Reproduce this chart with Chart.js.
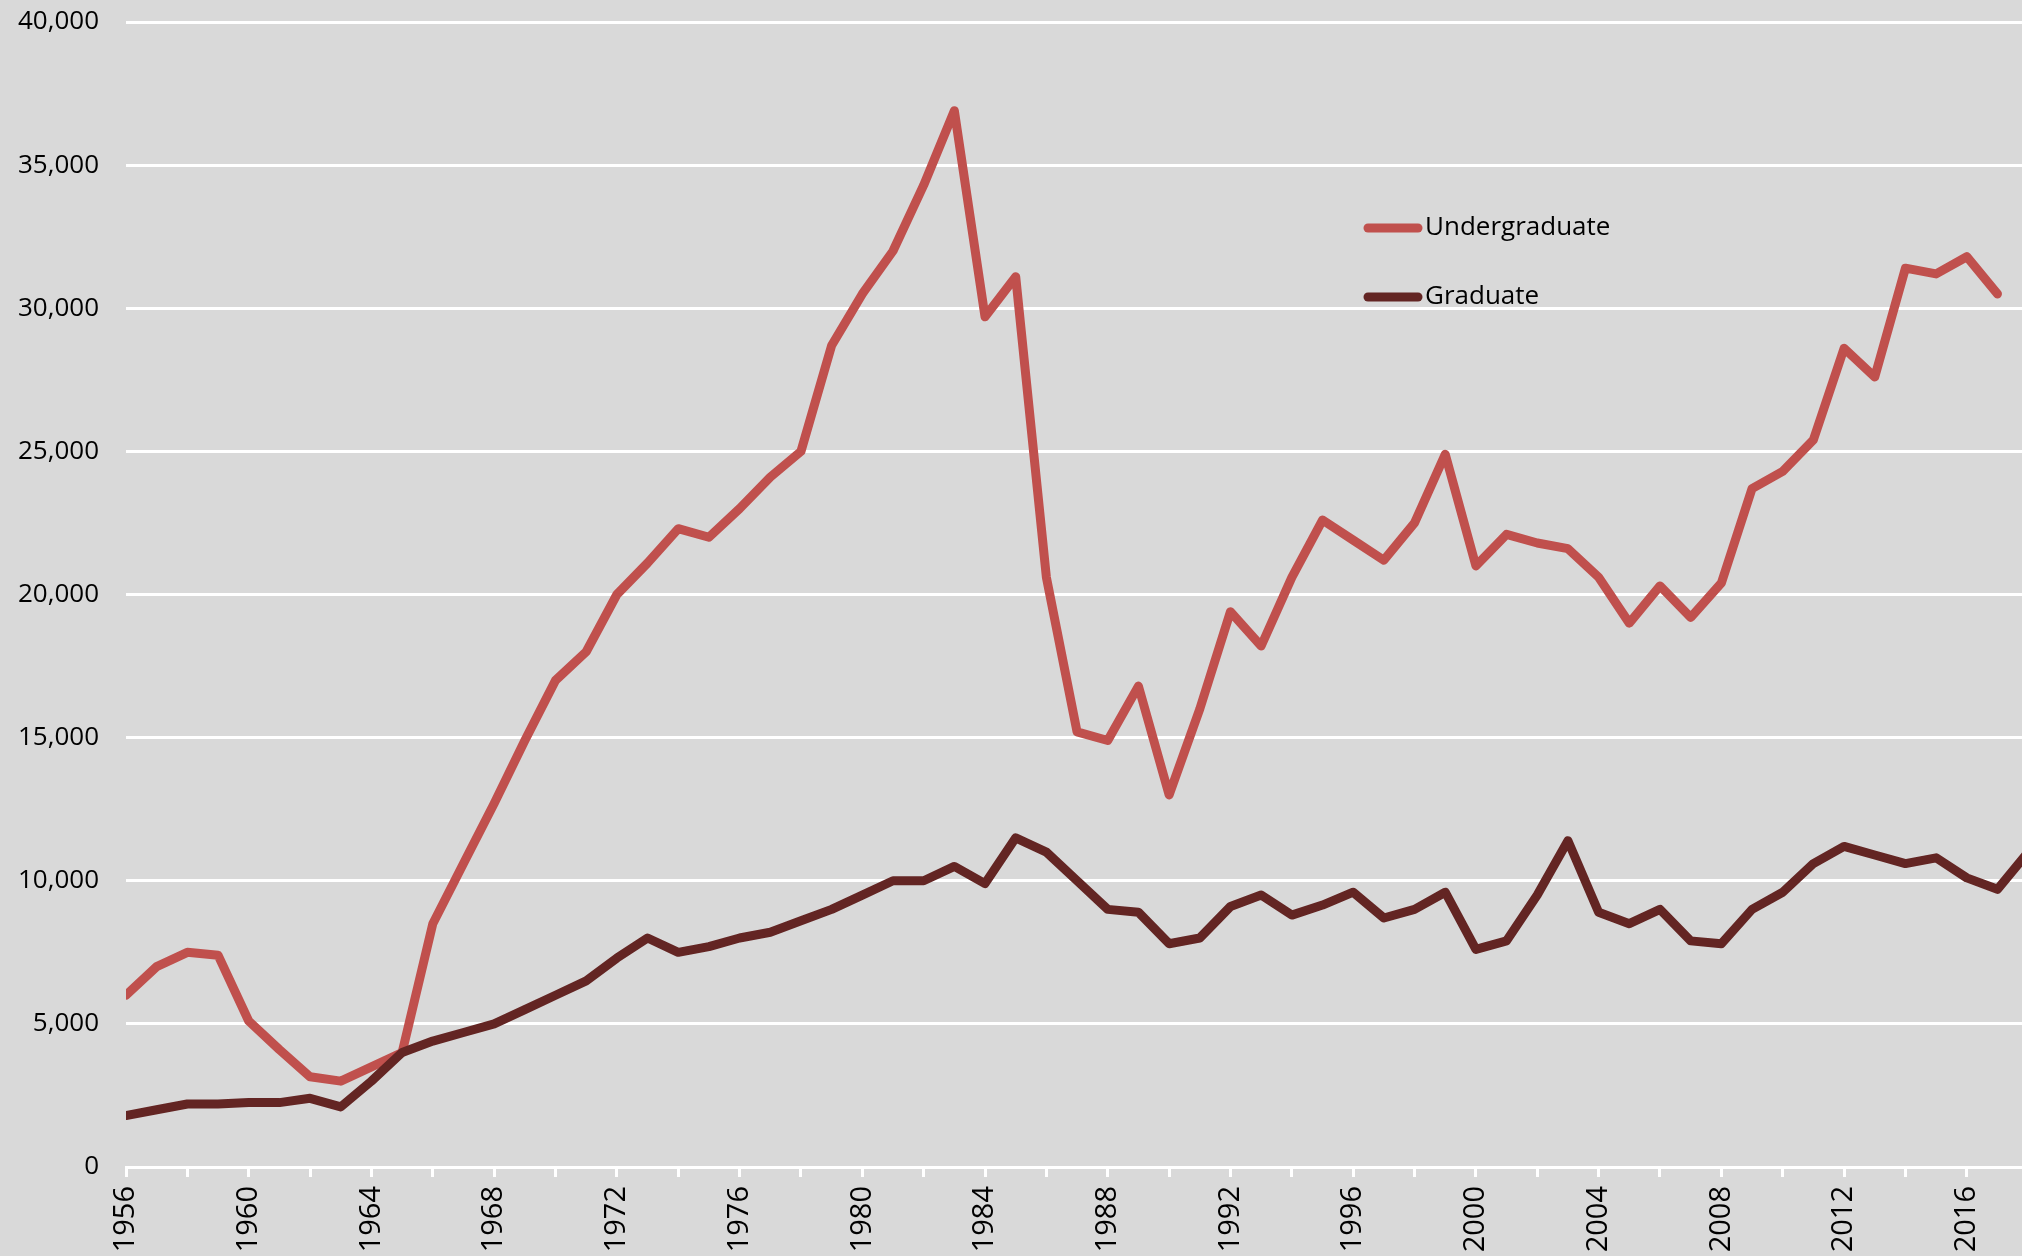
<!DOCTYPE html>
<html>
<head>
<meta charset="utf-8">
<title>Enrolment 1956-2017</title>
<script src="https://cdn.jsdelivr.net/npm/chart.js@4.4.1/dist/chart.umd.min.js"></script>
<style>
  html, body { margin: 0; padding: 0; background: #d9d9d9; }
  #wrap { position: relative; width: 2022px; height: 1256px; }
</style>
</head>
<body>
<div id="wrap"><canvas id="enrolChart"></canvas></div>
<script>
// values
const years = [
  1956, 1957, 1958, 1959, 1960, 1961, 1962, 1963, 1964, 1965,
  1966, 1967, 1968, 1969, 1970, 1971, 1972, 1973, 1974, 1975,
  1976, 1977, 1978, 1979, 1980, 1981, 1982, 1983, 1984, 1985,
  1986, 1987, 1988, 1989, 1990, 1991, 1992, 1993, 1994, 1995,
  1996, 1997, 1998, 1999, 2000, 2001, 2002, 2003, 2004, 2005,
  2006, 2007, 2008, 2009, 2010, 2011, 2012, 2013, 2014, 2015,
  2016, 2017, 2018
];
const undergraduate = [
  6000, 7000, 7500, 7400, 5100, 4100, 3150, 3000, 3500, 4000,
  8500, 10600, 12700, 14900, 17000, 18000, 20000, 21100, 22300, 22000,
  23000, 24100, 25000, 28700, 30500, 32000, 34300, 36900, 29700, 31100,
  20600, 15200, 14900, 16800, 13000, 16000, 19400, 18200, 20600, 22600,
  21900, 21200, 22500, 24900, 21000, 22100, 21800, 21600, 20600, 19000,
  20300, 19200, 20400, 23700, 24300, 25400, 28600, 27600, 31400, 31200,
  31800, 30500, null
];
const graduate = [
  1800, 2000, 2200, 2200, 2250, 2250, 2400, 2100, 3000, 4000,
  4400, 4700, 5000, 5500, 6000, 6500, 7300, 8000, 7500, 7700,
  8000, 8200, 8600, 9000, 9500, 10000, 10000, 10500, 9900, 11500,
  11000, 10000, 9000, 8900, 7800, 8000, 9100, 9500, 8800, 9150,
  9600, 8700, 9000, 9600, 7600, 7900, 9500, 11400, 8900, 8500,
  9000, 7900, 7800, 9000, 9600, 10600, 11200, 10900, 10600, 10800,
  10100, 9700, 11000
];
const seriesNames = ['Undergraduate', 'Graduate'];
const seriesColors = ['#c0504d', '#632523'];
const yMin = 0;
const yMax = 40000;
const yStep = 5000;
const xMin = 1956;
const xMax = 2017.8;
const labelEvery = 4;

const FONT = "'Open Sans', 'Liberation Sans', sans-serif";

function toPoints(values) {
  return years.map((yr, i) => ({ x: yr, y: values[i] }));
}

// legend drawn inside the plot, to the right of the peak
const insideLegend = {
  id: 'insideLegend',
  afterDraw(chart) {
    const ctx = chart.ctx;
    const area = chart.chartArea;
    const left = area.left + 1242;
    const top = area.top + 206;
    const rowGap = 69;
    const lineLen = 50;

    ctx.save();
    ctx.font = '26px ' + FONT;
    ctx.textBaseline = 'middle';
    ctx.textAlign = 'left';
    chart.data.datasets.slice().sort((a, b) => a.legendRow - b.legendRow).forEach((ds, i) => {
      const y = top + i * rowGap;
      ctx.strokeStyle = ds.borderColor;
      ctx.lineWidth = 9;
      ctx.lineCap = 'round';
      ctx.beginPath();
      ctx.moveTo(left, y);
      ctx.lineTo(left + lineLen, y);
      ctx.stroke();
      ctx.fillStyle = '#000';
      ctx.fillText(ds.label, left + lineLen + 7, y);
    });
    ctx.restore();
  }
};

const ctx = document.getElementById('enrolChart').getContext('2d');

new Chart(ctx, {
  type: 'line',
  data: {
    datasets: [
      {
        label: seriesNames[0],
        data: toPoints(undergraduate),
        borderColor: seriesColors[0],
        backgroundColor: seriesColors[0],
        borderWidth: 9,
        order: 1,
        legendRow: 0
      },
      {
        label: seriesNames[1],
        data: toPoints(graduate),
        borderColor: seriesColors[1],
        backgroundColor: seriesColors[1],
        borderWidth: 9,
        order: 0,
        legendRow: 1
      }
    ]
  },
  options: {
    responsive: true,
    maintainAspectRatio: false,
    animation: false,
    layout: { padding: { top: 22, right: 0, bottom: 0, left: 0 } },
    elements: {
      point: { radius: 0, hoverRadius: 0 },
      line: { tension: 0, borderCapStyle: 'round', borderJoinStyle: 'round' }
    },
    datasets: { line: { clip: 0, spanGaps: false } },
    scales: {
      x: {
        type: 'linear',
        min: xMin,
        max: xMax,
        afterFit(scale) {
          scale.height = 89;
          scale.paddingLeft = 0;
          scale.paddingRight = 0;
        },
        border: { display: true, color: '#ffffff', width: 3 },
        grid: {
          drawOnChartArea: false,
          drawTicks: true,
          tickLength: 10,
          color: '#ffffff',
          lineWidth: 3
        },
        ticks: {
          stepSize: 2,
          includeBounds: false,
          autoSkip: false,
          minRotation: 90,
          maxRotation: 90,
          padding: 9,
          color: '#000',
          font: { family: FONT, size: 29 },
          callback: function (value) {
            return value % labelEvery === 0 ? String(value) : '';
          }
        }
      },
      y: {
        min: yMin,
        max: yMax,
        afterFit(scale) {
          // the tick padding is horizontal here, keep it out of the top/bottom spacing
          scale.width = 126;
          scale.paddingTop = 0;
          scale.paddingBottom = 0;
        },
        border: { display: false },
        grid: {
          drawTicks: false,
          color: '#ffffff',
          lineWidth: 3
        },
        ticks: {
          stepSize: yStep,
          padding: 27,
          color: '#000',
          font: { family: FONT, size: 26 },
          callback: function (value) {
            return value.toLocaleString('en-US');
          }
        }
      }
    },
    plugins: {
      legend: { display: false },
      tooltip: { enabled: false }
    }
  },
  plugins: [insideLegend]
});
</script>
</body>
</html>
